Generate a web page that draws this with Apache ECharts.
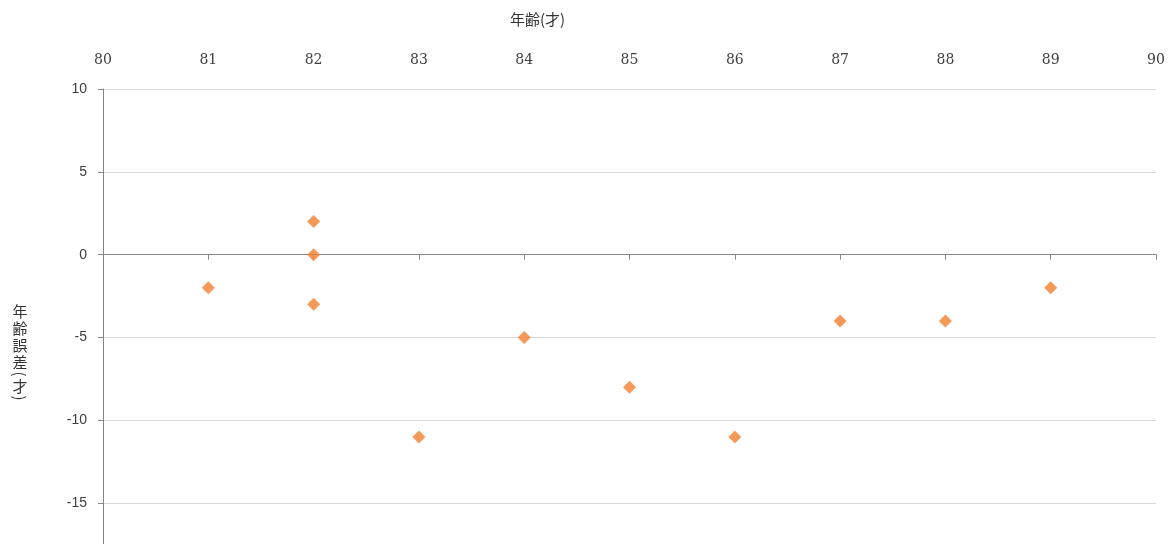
<!DOCTYPE html>
<html>
<head>
<meta charset="utf-8">
<script src="https://cdn.jsdelivr.net/npm/echarts@6/dist/echarts.min.js"></script>
<style>
html,body{margin:0;padding:0;background:#fff;overflow:hidden;}
/* plot goes on below the visible window, as in the reference */
#main{width:1172px;height:593px;}
</style>
</head>
<body>
<div id="main"></div>
<script>
// 年齢 と 年齢誤差
var ages = [81, 82, 82, 82, 83, 84, 85, 86, 87, 88, 89];
var ageErrors = [-2, 2, 0, -3, -11, -5, -8, -11, -4, -4, -2];
var xTicks = [80, 81, 82, 83, 84, 85, 86, 87, 88, 89, 90];
var yTicks = [-20, -15, -10, -5, 0, 5, 10];
var yName = ['年', '齢', '誤', '差', '(', '才', ')'];

var points = ages.map(function (a, i) { return [a, ageErrors[i]]; });

// 縦書きの軸名（1文字ずつ、括弧は90度回転）
var yNameParts = [];
var nameY = 311;
yName.forEach(function (ch, i) {
    var paren = (ch === '(' || ch === ')');
    if (i > 0) {
        var prevParen = (yName[i - 1] === '(' || yName[i - 1] === ')');
        nameY += (paren || prevParen) ? 12 : 17;
    }
    yNameParts.push({
        type: 'text',
        x: 20,
        y: nameY,
        rotation: paren ? -Math.PI / 2 : 0,
        style: {
            text: ch,
            fontSize: 15,
            fontFamily: 'Noto Sans CJK JP',
            fill: '#333',
            align: 'center',
            verticalAlign: 'middle'
        }
    });
});

var myChart = echarts.init(document.getElementById('main'));
var option = {
    backgroundColor: '#fff',
    animation: false,
    grid: {
        left: 103,
        right: 16,
        top: 89,
        bottom: 0
    },
    graphic: [{
        type: 'text',
        left: 510,
        top: 12,
        style: {
            text: '年齢(才)',
            fontSize: 15,
            fontFamily: 'Noto Sans CJK JP',
            fill: '#333'
        }
    }].concat(yNameParts),
    xAxis: [{
        type: 'value',
        position: 'top',
        min: xTicks[0],
        max: xTicks[xTicks.length - 1],
        interval: 1,
        axisLine: { show: false, onZero: false },
        axisTick: { show: false },
        splitLine: { show: false },
        axisLabel: {
            margin: 22,
            color: '#404040',
            fontSize: 14,
            fontFamily: 'DejaVu Serif'
        }
    }, {
        type: 'value',
        position: 'bottom',
        min: xTicks[0],
        max: xTicks[xTicks.length - 1],
        interval: 1,
        axisLine: { show: true, onZero: true, lineStyle: { color: '#868686', width: 1 } },
        axisTick: { show: true, length: 5, lineStyle: { color: '#868686' } },
        splitLine: { show: false },
        axisLabel: { show: false }
    }],
    yAxis: {
        type: 'value',
        min: yTicks[0],
        max: yTicks[yTicks.length - 1],
        interval: 5,
        axisLine: { show: true, onZero: false, lineStyle: { color: '#868686', width: 1 } },
        axisTick: { show: true, length: 5, lineStyle: { color: '#868686' } },
        splitLine: { show: true, lineStyle: { color: '#d9d9d9', width: 1 } },
        axisLabel: {
            margin: 16,
            color: '#404040',
            fontSize: 14,
            fontFamily: 'Liberation Sans'
        }
    },
    series: [{
        type: 'scatter',
        xAxisIndex: 0,
        symbol: 'diamond',
        symbolSize: [13, 13],
        itemStyle: { color: '#f2802f' },
        data: points
    }]
};
myChart.setOption(option);
</script>
</body>
</html>
